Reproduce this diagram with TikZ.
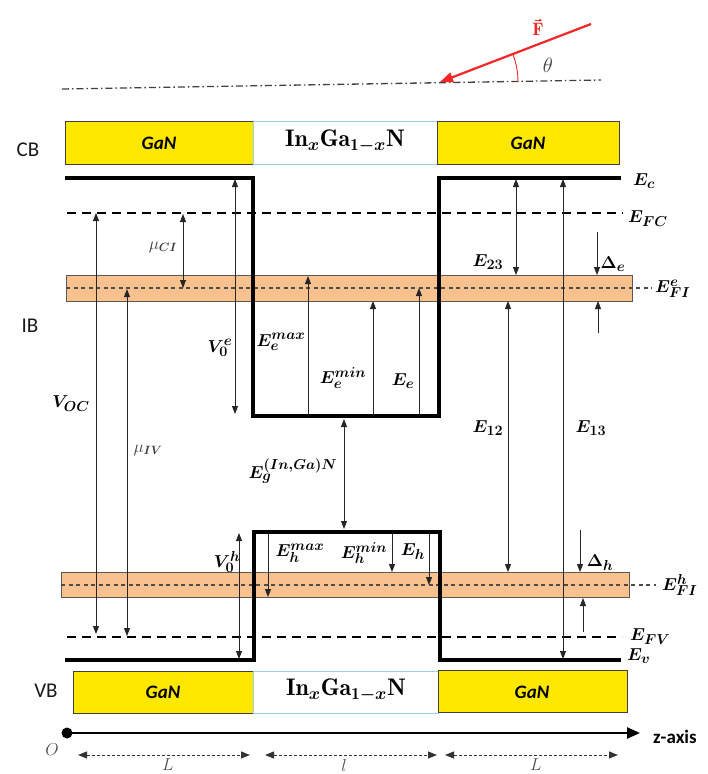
\documentclass[tikz,border=0pt]{standalone}
\usepackage{fontspec}
\usepackage{bm}
\newfontfamily\carl{Carlito}
\usetikzlibrary{arrows.meta}
\definecolor{ganyellow}{HTML}{FFE800}
\definecolor{bandorange}{HTML}{F8C18E}
\definecolor{fred}{HTML}{F42626}
\definecolor{boxblue}{HTML}{9FD0EA}
\tikzset{
  tip/.tip={Triangle[length=8pt,width=6pt]},
  arr/.style={line width=0.9pt, draw=black!85, -tip},
  darr/.style={line width=0.9pt, draw=black!85, tip-tip},
  well/.style={line width=3.2pt, line join=miter, line cap=rect},
  fermi/.style={line width=2.4pt, dash pattern=on 9pt off 6pt},
  bandbox/.style={fill=bandorange, draw=black!65, line width=0.8pt},
  banddash/.style={line width=1.1pt, draw=black!70, dash pattern=on 4pt off 3.5pt},
  gan/.style={fill=ganyellow, draw=black!75, line width=0.8pt},
  midbox/.style={fill=white, draw=boxblue, line width=0.6pt},
  ganlab/.style={font=\carl\bfseries\itshape\fontsize{19}{21}\selectfont, inner sep=0pt},
  sidelab/.style={font=\carl\fontsize{21}{23}\selectfont, text=black!90, inner sep=0pt},
  lab/.style={font=\fontsize{19}{21}\selectfont, inner sep=0pt},
  mulab/.style={font=\fontsize{17}{19}\selectfont, text=black!75, inner sep=0pt},
  dimarr/.style={line width=1pt, draw=black!80, dash pattern=on 3pt off 2pt, {Triangle[length=9pt,width=7pt]}-{Triangle[length=9pt,width=7pt]}},
}
\begin{document}
\begin{tikzpicture}[x=1pt,y=-1pt]
\useasboundingbox (0,0) rectangle (708,774);

% ---- field direction ----
\draw[line width=1.3pt, draw=black!75, dash pattern=on 7pt off 3pt on 1.5pt off 3pt] (62,89) -- (601,80);
\coordinate (ftip) at (440,82);
\coordinate (fstart) at (591,24);
\draw[fred, line width=2.2pt, -{Triangle[length=13pt,width=10pt]}] (fstart) -- (ftip);
\draw[fred, line width=0.9pt] (ftip) ++(78pt,0pt) arc[start angle=0, end angle=21, radius=78pt];
\node[font=\fontsize{18}{20}\selectfont, text=fred, inner sep=0pt] (Flab) at (538,29) {$\mathbf{F}$};
\draw[fred, line width=0.7pt, -{Stealth[length=3pt,width=3pt]}] ([xshift=-3pt,yshift=2.5pt]Flab.north) -- ([xshift=4pt,yshift=2.5pt]Flab.north);
\node[font=\fontsize{21}{23}\selectfont, text=black!75, inner sep=0pt] (thlab) at (548,65) {$\theta$};

% ---- top material bar ----
\draw[gan] (65,121) rectangle (253,164);
\draw[midbox] (253,121) rectangle (437,164);
\draw[gan] (437,121) rectangle (619,164);
\node[ganlab] (g1) at (159,143) {GaN};
\node[font=\fontsize{24}{26}\selectfont, inner sep=0pt] (m1) at (345,141) {$\mathbf{In}_{\bm{x}}\mathbf{Ga}_{\mathbf{1}\bm{-x}}\mathbf{N}$};
\node[ganlab] (g2) at (528,143) {GaN};
\node[sidelab] (cb) at (28,150) {CB};

% ---- intermediate bands ----
\draw[bandbox] (66,275) rectangle (632,301);
\draw[banddash] (66,288) -- (652,288);
\draw[bandbox] (61,572) rectangle (629,597);
\draw[banddash] (61,585) -- (656,585);
\node[sidelab] (ib) at (30,326) {IB};

% ---- quasi-Fermi levels ----
\draw[fermi] (67,213) -- (623,213);
\draw[fermi] (67,637) -- (622,637);

% ---- well profiles ----
\draw[well] (67,178) -- (253,178) -- (253,416) -- (439,416) -- (439,178) -- (619,178);
\draw[well] (67,660) -- (254,660) -- (254,532) -- (440,532) -- (440,660) -- (619,660);

% ---- arrows ----
\draw[darr] (96,213) -- (96,634);
\draw[darr] (183,214) -- (183,288);
\draw[darr] (127,289) -- (127,636);
\draw[darr] (235,179) -- (235,414);
\draw[arr] (308,415) -- (308,276);
\draw[arr] (373,415) -- (373,301);
\draw[arr] (419,415) -- (419,288);
\draw[darr] (344,419) -- (344,529);
\draw[darr] (239,533) -- (239,659);
\draw[arr] (268,533) -- (268,597);
\draw[arr] (392,533) -- (392,572);
\draw[arr] (429,533) -- (429,585);
\draw[darr] (516,179) -- (516,275);
\draw[darr] (563,179) -- (563,659);
\draw[darr] (508,301) -- (508,572);
\draw[arr] (597,232) -- (597,275);
\draw[arr] (598,333) -- (598,301);
\draw[arr] (580,530) -- (580,572);
\draw[arr] (583,632) -- (583,598);

% ---- labels ----
\node[lab, anchor=west] (lEc) at (633,181) {$\bm{E_c}$};
\node[lab, anchor=west] (lEFC) at (628,219) {$\bm{E_{FC}}$};
\node[lab, anchor=west] (lEFIe) at (655,289) {$\bm{E_{FI}^{e}}$};
\node[lab, anchor=west] (lEFIh) at (662,585) {$\bm{E_{FI}^{h}}$};
\node[lab, anchor=west] (lEFV) at (630,637) {$\bm{E_{FV}}$};
\node[lab, anchor=west] (lEv) at (627,656) {$\bm{E_v}$};
\node[lab] (lVOC) at (71,404) {$\bm{V_{OC}}$};
\node[mulab] (lmuCI) at (163,247) {$\mu_{\bm{CI}}$};
\node[mulab] (lmuIV) at (148,450) {$\mu_{\bm{IV}}$};
\node[lab] (lV0e) at (220,348) {$\bm{V_0^e}$};
\node[lab] (lEemax) at (281,342) {$\bm{E_e^{max}}$};
\node[lab] (lEemin) at (343,378) {$\bm{E_e^{min}}$};
\node[lab] (lEe) at (403,381) {$\bm{E_e}$};
\node[lab] (lEg) at (293,471) {$\bm{E_g^{(In,Ga)N}}$};
\node[lab] (lV0h) at (227,562) {$\bm{V_0^h}$};
\node[lab] (lEhmax) at (300,553) {$\bm{E_h^{max}}$};
\node[lab] (lEhmin) at (364,553) {$\bm{E_h^{min}}$};
\node[lab] (lEh) at (413,552) {$\bm{E_h}$};
\node[lab] (lE12) at (488,428) {$\bm{E_{12}}$};
\node[lab] (lE13) at (591,428) {$\bm{E_{13}}$};
\node[lab] (lE23) at (488,262) {$\bm{E_{23}}$};
\node[lab] (lDe) at (613,264) {$\bm{\Delta_e}$};
\node[lab] (lDh) at (600,563) {$\bm{\Delta_h}$};

% ---- bottom material bar ----
\draw[gan] (73,671) rectangle (253,713);
\draw[midbox] (253,671) rectangle (438,713);
\draw[gan] (438,670) rectangle (627,712);
\node[ganlab] (g3) at (163,692) {GaN};
\node[font=\fontsize{24}{26}\selectfont, inner sep=0pt] (m2) at (346,690) {$\mathbf{In}_{\bm{x}}\mathbf{Ga}_{\mathbf{1}\bm{-x}}\mathbf{N}$};
\node[ganlab] (g4) at (532,692) {GaN};
\node[sidelab] (vb) at (46,691) {VB};

% ---- z axis ----
\coordinate (orig) at (67,733);
\coordinate (zend) at (640,733);
\fill (orig) circle (5.5pt);
\draw[line width=2.4pt, -{Triangle[length=13pt,width=11pt]}] (orig) -- (zend);
\node[font=\carl\bfseries\fontsize{19}{21}\selectfont, inner sep=0pt, anchor=west] (zlab) at (653,737) {z-axis};
\node[font=\fontsize{19}{21}\selectfont, text=black!70, inner sep=0pt] (olab) at (52,750) {$O$};
\draw[dimarr] (78,755) -- (250,755);
\draw[dimarr] (265,755) -- (437,755);
\draw[dimarr] (445,755) -- (618,755);
\node[font=\fontsize{19}{21}\selectfont, text=black!70, inner sep=0pt] (L1) at (168,765) {$L$};
\node[font=\fontsize{19}{21}\selectfont, text=black!70, inner sep=0pt] (l2) at (344,765) {$l$};
\node[font=\fontsize{19}{21}\selectfont, text=black!70, inner sep=0pt] (L3) at (536,765) {$L$};
\end{tikzpicture}
\end{document}
